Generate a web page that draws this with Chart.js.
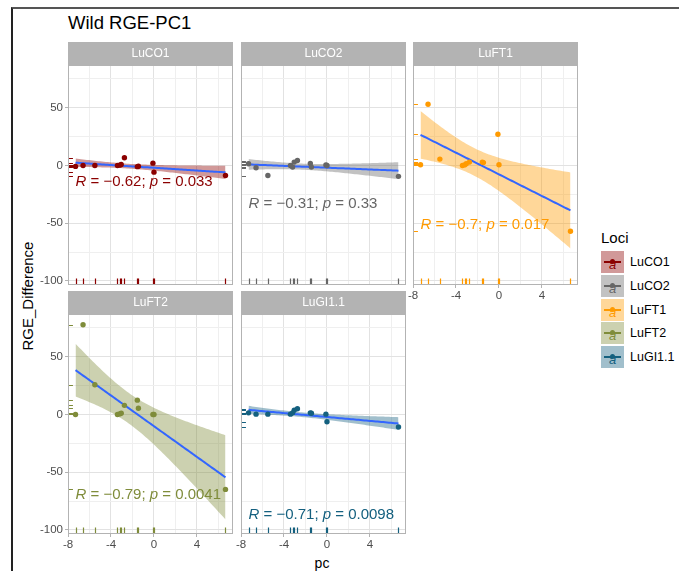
<!DOCTYPE html>
<html>
<head>
<meta charset="utf-8">
<script src="https://cdn.jsdelivr.net/npm/chart.js@4.4.1/dist/chart.umd.min.js"></script>
<style>
  body { margin: 0; background: #fff; width: 679px; height: 571px; position: relative; overflow: hidden;
         font-family: "Liberation Sans", Arial, sans-serif; }
  .frame { position: absolute; left: 11px; top: 7px; width: 700px; height: 600px;
           border-left: 2px solid #222; border-top: 2px solid #555; }
  canvas.panel { position: absolute; }
  .title { position: absolute; left: 68px; top: 12px; font-size: 18.5px; color: #000; }
  .xlab { position: absolute; left: 312px; top: 555px; width: 20px; text-align: center; font-size: 14px; }
  .ylab { position: absolute; left: 27px; top: 296px; font-size: 15px; white-space: nowrap;
          transform: translate(-50%, -50%) rotate(-90deg); }
  .legend-title { position: absolute; left: 601px; top: 229px; font-size: 15px; }
  .key { position: absolute; left: 601px; width: 23px; height: 22px; }
  .key .ln { position: absolute; left: 3px; right: 3px; top: 10px; height: 2px; }
  .key .dot { position: absolute; left: 9px; top: 8px; width: 5px; height: 5px; border-radius: 50%; }
  .key .a { position: absolute; left: 0; right: 0; top: 7px; text-align: center; font-size: 13px; font-style: italic; line-height: 13px; }
  .key-label { position: absolute; left: 630px; font-size: 12.5px; }
</style>
</head>
<body>
<div class="frame"></div>
<div class="title">Wild RGE-PC1</div>
<div class="xlab">pc</div>
<div class="ylab">RGE_Difference</div>
<div class="legend-title">Loci</div>
<div id="legend"></div>

<script>
// shared x values (pc) and per-locus RGE differences
const pc = [-7.3, -6.6, -5.5, -3.4, -3.2, -3.05, -2.75, -1.55, -1.45, -0.1, 0, 6.65];
const loci = ['LuCO1', 'LuCO2', 'LuFT1', 'LuFT2', 'LuGI1.1'];
const luCO1 = [-0.8, 0, 0, 0, 0.3, 0.8, 6.7, -1, -0.6, 2, -5.8, -8.7];
const luCO2 = [1.5, -2, -8.7, 0, -1.4, 2.9, 4.3, 1.7, -1.4, 0.5, 0, -9.4];
const luFT1 = [0.6, 53, 5.5, 0, 0.5, 1.5, 2.9, 2.9, 2.5, 27, 0.6, -57];
const luFT2 = [0, 77.7, 25.7, 0, 0.5, 1.1, 7.9, 12.4, 5.4, 0, 0, -64.9];
const luGI11 = [1.4, 0.3, 0.3, 0.3, 1.4, 3.7, 4.9, 1.4, 1, 0.3, -6.3, -10.9];
const lociValues = [luCO1, luCO2, luFT1, luFT2, luGI11];
const lociColors = ['#8B0000', '#666666', '#FF9A00', '#7F8C3A', '#14607F'];

// stat_cor labels
const corR = ['\u22120.62', '\u22120.31', '\u22120.7', '\u22120.79', '\u22120.71'];
const corP = ['0.033', '0.33', '0.017', '0.0041', '0.0098'];
const corY = [-14.5, -33, -51.5, -69.5, -87];

// axes
const xTicks = [-8, -6, -4, -2, 0, 2, 4, 6];
const xMajor = [-8, -4, 0, 4];
const yTicks = [-100, -75, -50, -25, 0, 25, 50, 75];
const yMajor = [-100, -50, 0, 50];
const xRange = [-8.0, 7.35];
const yRange = [-103.5, 87];

// facet grid placement
const panelLeft = [68, 241, 413, 68, 241];
const panelTop = [42, 42, 42, 291, 291];
const showY = [true, false, false, true, false];
const showX = [false, false, true, true, true];
const YW = 40, XH = 18, STRIP = 23, PW = 165, PH = 220;

const FONT = '"Liberation Sans", Arial, sans-serif';

function alpha(hex, a) {
  const n = parseInt(hex.slice(1), 16);
  return `rgba(${n >> 16},${(n >> 8) & 255},${n & 255},${a})`;
}

// lm fit with 95% confidence band, like geom_smooth(method = "lm")
function fitLm(x, y) {
  const n = x.length;
  const mx = x.reduce((s, v) => s + v, 0) / n;
  const my = y.reduce((s, v) => s + v, 0) / n;
  let sxx = 0, sxy = 0;
  for (let i = 0; i < n; i++) {
    sxx += (x[i] - mx) ** 2;
    sxy += (x[i] - mx) * (y[i] - my);
  }
  const b = sxy / sxx, a = my - b * mx;
  let sse = 0;
  for (let i = 0; i < n; i++) sse += (y[i] - a - b * x[i]) ** 2;
  const s = Math.sqrt(sse / (n - 2));
  const t = 2.228; // qt(0.975, 10)
  const lo = Math.min(...x), hi = Math.max(...x);
  const out = [];
  for (let k = 0; k < 80; k++) {
    const xv = lo + (hi - lo) * k / 79;
    const fit = a + b * xv;
    const se = s * Math.sqrt(1 / n + (xv - mx) ** 2 / sxx);
    out.push({ x: xv, fit: fit, lo: fit - t * se, hi: fit + t * se });
  }
  return out;
}

const facetPlugin = {
  id: 'facet',
  beforeDraw(chart, args, opts) {
    const { ctx, chartArea: a } = chart;
    ctx.save();
    ctx.fillStyle = '#B3B3B3';
    ctx.fillRect(a.left, a.top - STRIP, a.right - a.left, STRIP);
    ctx.fillStyle = '#fff';
    ctx.font = '12px ' + FONT;
    ctx.textAlign = 'center';
    ctx.textBaseline = 'middle';
    ctx.fillText(opts.name, (a.left + a.right) / 2, a.top - STRIP / 2);
    ctx.restore();
  },
  afterDatasetsDraw(chart, args, opts) {
    const { ctx, chartArea: a, scales } = chart;
    ctx.save();
    ctx.beginPath();
    ctx.rect(a.left, a.top, a.right - a.left, a.bottom - a.top);
    ctx.clip();
    // rugs
    ctx.strokeStyle = opts.color;
    ctx.lineWidth = 1.2;
    const rx = (a.bottom - a.top) * 0.03, ry = (a.right - a.left) * 0.03;
    opts.xs.forEach((xv, i) => {
      const px = Math.round(scales.x.getPixelForValue(xv)) + 0.5;
      const py = Math.round(scales.y.getPixelForValue(opts.ys[i])) + 0.5;
      ctx.beginPath();
      ctx.moveTo(px, a.bottom); ctx.lineTo(px, a.bottom - rx);
      ctx.moveTo(a.left, py); ctx.lineTo(a.left + ry, py);
      ctx.stroke();
    });
    // stat_cor text
    ctx.fillStyle = opts.color;
    ctx.textAlign = 'left';
    ctx.textBaseline = 'middle';
    let cx = scales.x.getPixelForValue(opts.labelX);
    const cy = scales.y.getPixelForValue(opts.labelY);
    const parts = [['R', 'italic '], [' = ' + opts.r + '; ', ''], ['p', 'italic '], [' = ' + opts.p, '']];
    parts.forEach(([txt, st]) => {
      ctx.font = st + '15px ' + FONT;
      ctx.fillText(txt, cx, cy);
      cx += ctx.measureText(txt).width;
    });
    ctx.restore();
    // panel border
    ctx.save();
    ctx.strokeStyle = '#B3B3B3';
    ctx.lineWidth = 1;
    ctx.strokeRect(a.left + 0.5, a.top + 0.5, a.right - a.left - 1, a.bottom - a.top - 1);
    ctx.restore();
  }
};

function makePanel(i) {
  const canvas = document.createElement('canvas');
  canvas.className = 'panel';
  canvas.width = YW + PW + 2;
  canvas.height = STRIP + PH + XH;
  canvas.style.left = (panelLeft[i] - YW) + 'px';
  canvas.style.top = panelTop[i] + 'px';
  document.body.appendChild(canvas);

  const ys = lociValues[i];
  const color = lociColors[i];
  const band = fitLm(pc, ys);
  const points = pc.map((x, k) => ({ x: x, y: ys[k] }));

  const gridColor = (major) => (c) => (major.includes(c.tick.value) ? '#E2E2E2' : '#EFEFEF');

  new Chart(canvas, {
    type: 'scatter',
    data: {
      datasets: [
        { type: 'line', data: band.map(d => ({ x: d.x, y: d.lo })), borderWidth: 0, pointRadius: 0,
          borderColor: 'transparent', fill: false, order: 3 },
        { type: 'line', data: band.map(d => ({ x: d.x, y: d.hi })), borderWidth: 0, pointRadius: 0,
          borderColor: 'transparent', backgroundColor: alpha(color, 0.4), fill: '-1', order: 2 },
        { type: 'line', data: band.map(d => ({ x: d.x, y: d.fit })), borderColor: '#3366FF', borderWidth: 2,
          pointRadius: 0, fill: false, order: 1 },
        { data: points, backgroundColor: color, borderWidth: 0, pointRadius: 2.7, order: 0 }
      ]
    },
    options: {
      responsive: false,
      animation: false,
      events: [],
      layout: { padding: { top: STRIP, right: 2, left: 0, bottom: 0 }, autoPadding: false },
      plugins: {
        legend: { display: false },
        tooltip: { enabled: false },
        facet: { name: loci[i], color: color, xs: pc, ys: ys, labelX: pc[0], labelY: corY[i], r: corR[i], p: corP[i] }
      },
      scales: {
        x: {
          type: 'linear', min: xRange[0], max: xRange[1],
          afterBuildTicks: s => { s.ticks = xTicks.map(v => ({ value: v })); },
          afterFit: s => { s.height = XH; },
          border: { display: false },
          grid: { color: gridColor(xMajor), lineWidth: 1, drawTicks: showX[i], tickLength: 3,
                  tickColor: c => (xMajor.includes(c.tick.value) ? '#B3B3B3' : 'transparent') },
          ticks: { display: showX[i], autoSkip: false, maxRotation: 0, padding: 1, color: '#4D4D4D',
                   font: { family: FONT, size: 11.5 },
                   callback: v => (xMajor.includes(v) ? String(v) : '') }
        },
        y: {
          type: 'linear', min: yRange[0], max: yRange[1],
          afterBuildTicks: s => { s.ticks = yTicks.map(v => ({ value: v })); },
          afterFit: s => { s.width = YW; },
          border: { display: false },
          grid: { color: gridColor(yMajor), lineWidth: 1, drawTicks: showY[i], tickLength: 3,
                  tickColor: c => (yMajor.includes(c.tick.value) ? '#B3B3B3' : 'transparent') },
          ticks: { display: showY[i], autoSkip: false, padding: 2, color: '#4D4D4D',
                   font: { family: FONT, size: 11.5 },
                   callback: v => (yMajor.includes(v) ? String(v) : '') }
        }
      }
    },
    plugins: [facetPlugin]
  });
}

loci.forEach((name, i) => makePanel(i));

// legend
const legend = document.getElementById('legend');
loci.forEach((name, i) => {
  const top = 251 + i * 23.8;
  const key = document.createElement('div');
  key.className = 'key';
  key.style.top = top + 'px';
  key.style.background = alpha(lociColors[i], 0.4);
  key.innerHTML = `<div class="a" style="color:${lociColors[i]}">a</div>` +
    `<div class="ln" style="background:${lociColors[i]}"></div>` +
    `<div class="dot" style="background:${lociColors[i]}"></div>`;
  legend.appendChild(key);
  const lab = document.createElement('div');
  lab.className = 'key-label';
  lab.style.top = (top + 4) + 'px';
  lab.textContent = name;
  legend.appendChild(lab);
});
</script>
</body>
</html>
